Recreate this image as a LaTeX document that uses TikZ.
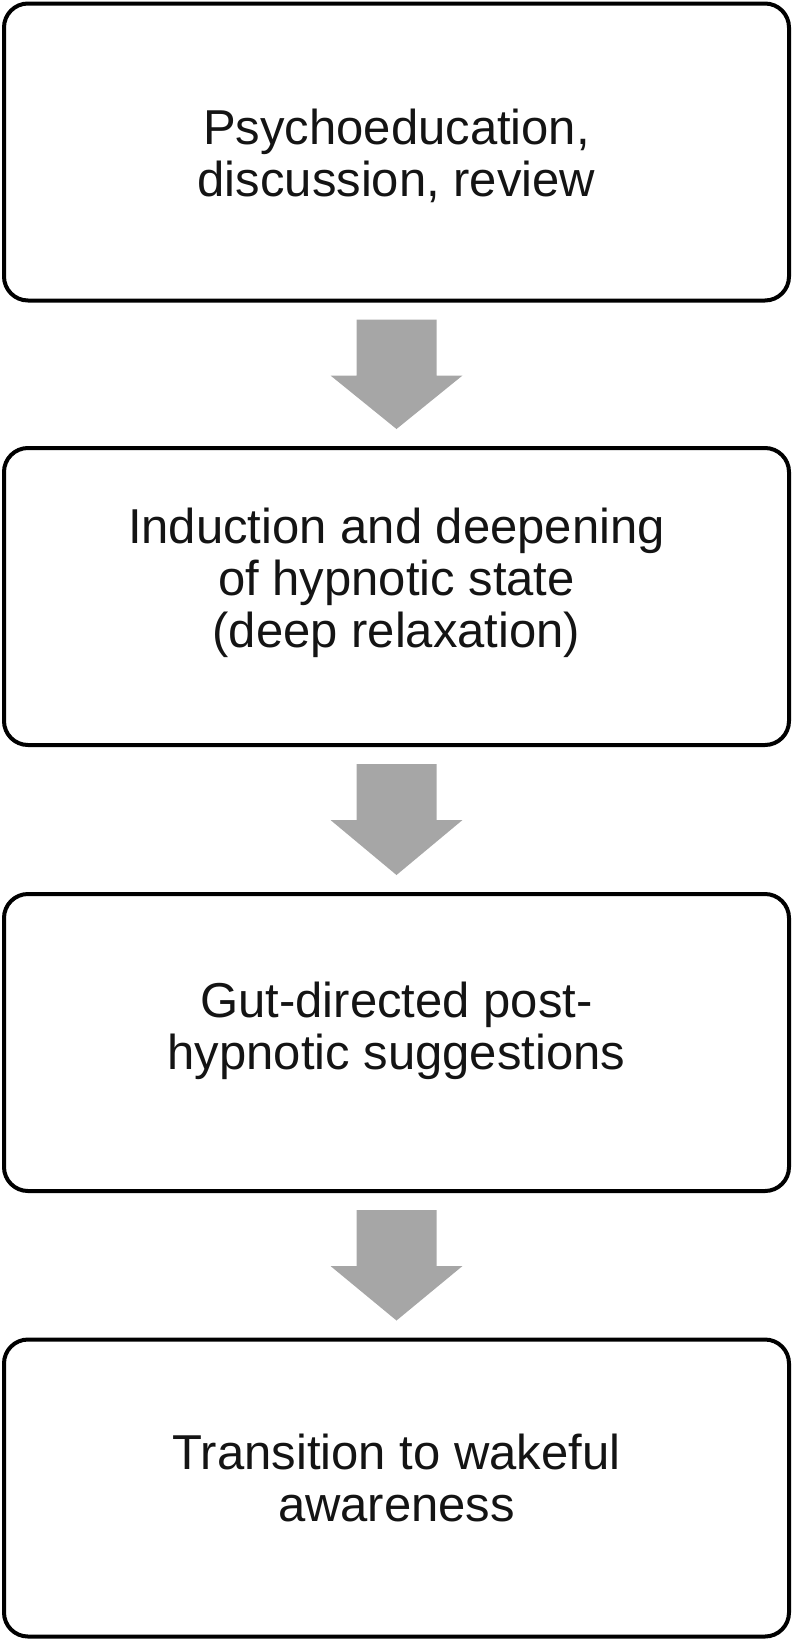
\documentclass[tikz,border=0pt]{standalone}
\usepackage{fontspec}
\setmainfont{Liberation Sans}
\usetikzlibrary{calc}
\definecolor{arrowgray}{RGB}{166,166,166}
\definecolor{textblack}{RGB}{20,20,20}
\tikzset{
  stepbox/.style={draw=black, line width=4pt, rounded corners=24pt, minimum width=785pt, minimum height=297pt, inner sep=0pt, outer sep=0pt},
  boxtext/.style={anchor=north, inner sep=0pt, outer sep=0pt, align=center, text=textblack, font=\fontsize{49}{52}\selectfont},
}
\newcommand{\blockarrow}[2]{%
  \fill[arrowgray] ($(#1.south)+(-40,19)$) -- ($(#1.south)+(40,19)$) -- ($(#1.south)+(40,75)$) -- ($(#1.south)+(66,75)$) -- ($(#2.north)+(0,-19)$) -- ($(#1.south)+(-66,75)$) -- ($(#1.south)+(-40,75)$) -- cycle;}
\begin{document}
\begin{tikzpicture}[x=1pt, y=-1pt]
\useasboundingbox (0,0) rectangle (793,1641);
\node[stepbox] (b1) at (396.5,152) {};
\node[stepbox] (b2) at (396.5,596.5) {};
\node[stepbox] (b3) at (396.5,1042.5) {};
\node[stepbox] (b4) at (396.5,1488) {};
\node[boxtext] (t1) at (396.5,109) {Psychoeducation,\\discussion, review};
\node[boxtext] (t2) at (396.5,508) {Induction and deepening\\of hypnotic state\\(deep relaxation)};
\node[boxtext] (t3) at (396.5,982) {Gut-directed post-\\hypnotic suggestions};
\node[boxtext] (t4) at (396.5,1434) {Transition to wakeful\\awareness};
\blockarrow{b1}{b2}
\blockarrow{b2}{b3}
\blockarrow{b3}{b4}
\end{tikzpicture}
\end{document}
